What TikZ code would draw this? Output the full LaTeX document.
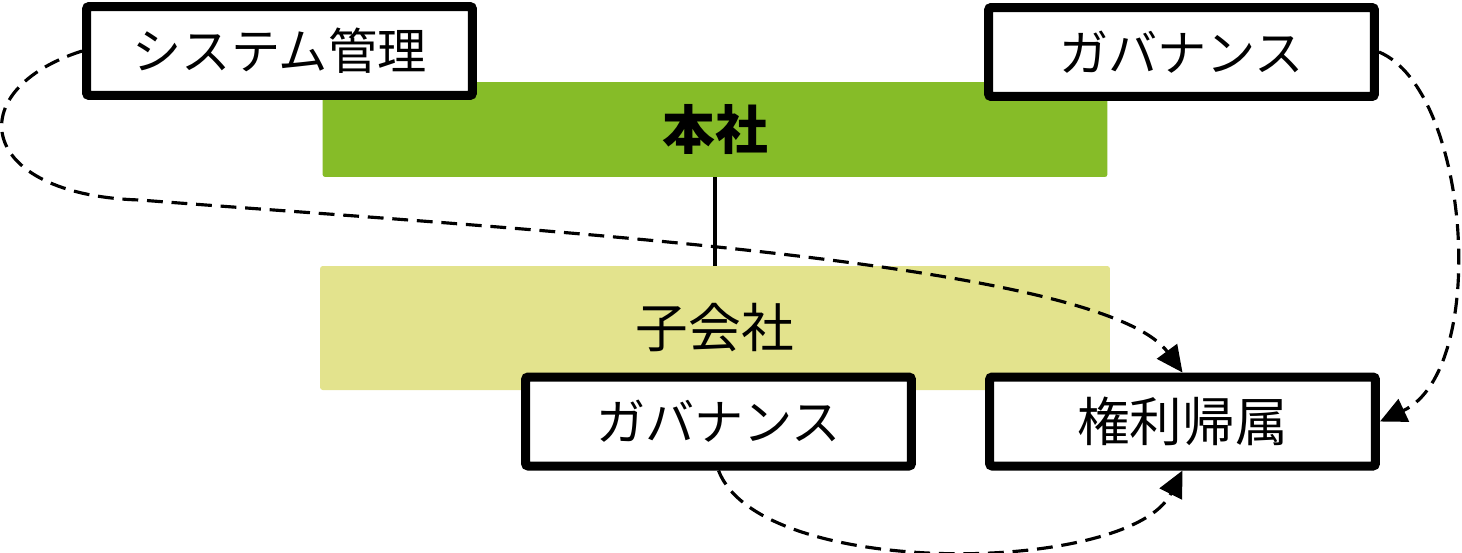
\documentclass[tikz,border=0pt]{standalone}
\usepackage{fontspec}
\setmainfont{Noto Sans CJK JP}
\usetikzlibrary{arrows.meta}
\definecolor{hqgreen}{RGB}{134,188,40}
\definecolor{subyellow}{RGB}{227,227,141}
\tikzset{
    company/.style = {minimum width=15.7cm, minimum height=1.9cm, rounded corners=1.5pt, inner sep=0pt},
    role/.style = {draw, fill=white, line width=0.18cm, rounded corners=1.5pt, minimum width=7.72cm, minimum height=1.78cm, inner sep=0pt, font=\fontsize{28}{34}\selectfont},
    flow/.style = {dash pattern=on 9pt off 5pt, line width=1.8pt, -{Triangle[length=15pt,width=14pt]}},
}

\begin{document}
\begin{tikzpicture}[x=0.02cm, y=-0.02cm, every node/.style={font=\fontsize{30}{36}\selectfont}]
    \useasboundingbox (0,0) rectangle (1462,552);
    \node[company, fill=hqgreen] (hq) at (715,129.5) {\bfseries 本社};
    \node[company, fill=subyellow, minimum width=15.8cm, minimum height=2.48cm] (sub) at (715,328) {子会社};
    \draw[line width=2.3pt] (hq) -- (sub);

    \node[role] (sys) at (279.5,51) {システム管理};
    \node[role] (gov) at (1181.5,52) {ガバナンス};
    \node[role] (subgov) at (718.5,421.5) {ガバナンス};
    \node[role, font=\fontsize{30}{36}\selectfont] (rights) at (1182.5,421.5) {権利帰属};

    % dashed flows into rights
    \draw[flow] (sys.west) .. controls (-40,90) and (-25,195) .. (140,200) .. controls (500,228) and (1100,260) .. (rights.north);
    \draw[flow] (gov.east) .. controls (1470,90) and (1490,370) .. (rights.east);
    \draw[flow] (subgov.south) .. controls (760,580) and (1130,575) .. (rights.south);
\end{tikzpicture}
\end{document}
